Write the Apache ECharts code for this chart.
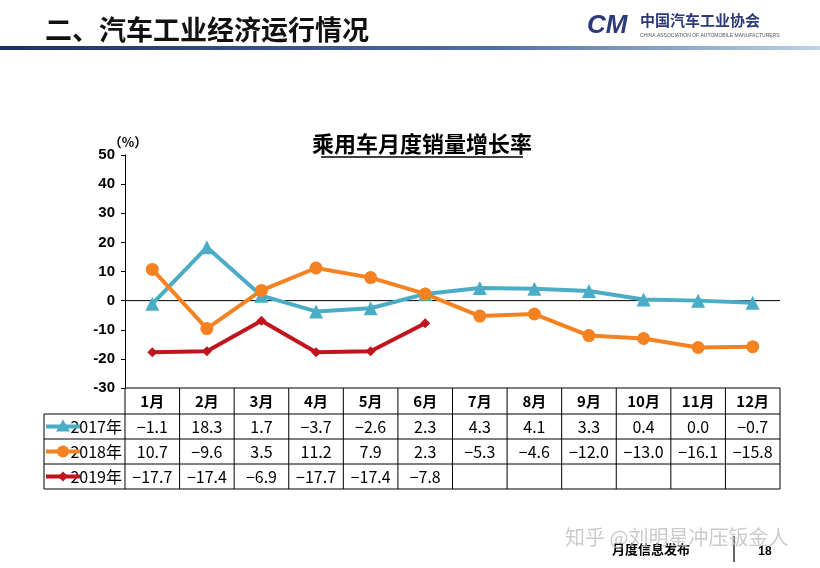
<!DOCTYPE html><html><head><meta charset="utf-8">
<script src="https://cdn.jsdelivr.net/npm/echarts@6/dist/echarts.min.js"></script>
<style>body{margin:0;background:#fff}#c{width:820px;height:568px}</style></head><body><div id="c"></div>
<script>
const months=['1月','2月','3月','4月','5月','6月','7月','8月','9月','10月','11月','12月'];
const names=['2017年','2018年','2019年'];
const s2017=[-1.1,18.3,1.7,-3.7,-2.6,2.3,4.3,4.1,3.3,0.4,0.0,-0.7];
const s2018=[10.7,-9.6,3.5,11.2,7.9,2.3,-5.3,-4.6,-12.0,-13.0,-16.1,-15.8];
const s2019=[-17.7,-17.4,-6.9,-17.7,-17.4,-7.8];
const labels2017=['-1.1','18.3','1.7','-3.7','-2.6','2.3','4.3','4.1','3.3','0.4','0.0','-0.7'];
const labels2018=['10.7','-9.6','3.5','11.2','7.9','2.3','-5.3','-4.6','-12.0','-13.0','-16.1','-15.8'];
const labels2019=['-17.7','-17.4','-6.9','-17.7','-17.4','-7.8'];
const colors=['#4bacc6','#f58220','#c0141e'];
const symbols=['triangle','circle','diamond'];
const chart=echarts.init(document.getElementById('c'));
const F='"Noto Sans CJK SC",sans-serif';
chart.setOption({
 animation:false,
 grid:{left:125,right:40,top:155,bottom:180},
 xAxis:{type:'category',data:months,boundaryGap:true,axisTick:{show:false},
  axisLine:{show:false},axisLabel:{show:false}},
 yAxis:{type:'value',min:-30,max:50,interval:10,axisLine:{show:true,lineStyle:{color:'#000'}},
  axisTick:{show:true,inside:false,length:4,lineStyle:{color:'#000'}},splitLine:{show:false},
  axisLabel:{color:'#000',fontSize:15,fontFamily:'Arial,sans-serif',fontWeight:'bold',margin:10}},
 series:[s2017,s2018,s2019].map((d,i)=>({type:'line',name:names[i],data:d,symbol:symbols[i],
  symbolSize:i==2?10:(i==0?14:13),lineStyle:{width:4,color:colors[i]},itemStyle:{color:colors[i]}}))
});
const g=[];
const p=(i,v)=>chart.convertToPixel({xAxisIndex:0,yAxisIndex:0},[i,v]);
const cw=p(1,0)[0]-p(0,0)[0];
const L=p(0,0)[0]-cw/2, R=L+12*cw, y0=p(0,0)[1], yb=p(0,-30)[1];
g.push({type:'line',shape:{x1:L,y1:y0,x2:R,y2:y0},style:{stroke:'#000',lineWidth:1}});
const rows=[yb,yb+26,yb+51,yb+76,yb+101];
const tl=44;
g.push({type:'line',shape:{x1:L,y1:rows[0],x2:R,y2:rows[0]},style:{stroke:'#000',lineWidth:1}});
for(let r=1;r<5;r++)g.push({type:'line',shape:{x1:tl,y1:rows[r],x2:R,y2:rows[r]},style:{stroke:'#000',lineWidth:1}});
g.push({type:'line',shape:{x1:tl,y1:rows[1],x2:tl,y2:rows[4]},style:{stroke:'#000',lineWidth:1}});
for(let i=0;i<=12;i++){const x=L+i*cw;g.push({type:'line',shape:{x1:x,y1:rows[0],x2:x,y2:rows[4]},style:{stroke:'#000',lineWidth:1}});}
const tx=(x,y,t,o)=>g.push({type:'text',x,y,style:Object.assign({text:t,fill:'#000',font:'15px '+F,align:'center',verticalAlign:'middle'},o||{})});
months.forEach((m,i)=>tx(p(i,0)[0],(rows[0]+rows[1])/2,m,{font:'bold 15px '+F}));
[labels2017,labels2018,labels2019].forEach((arr,r)=>{
 const yc=(rows[r+1]+rows[r+2])/2;
 arr.forEach((t,i)=>tx(p(i,0)[0],yc,t.replace('-','−'),{font:'16px '+F}));
 tx(125-3,yc,names[r],{align:'right',font:'16px '+F});
 g.push({type:'line',shape:{x1:tl+2,y1:yc,x2:tl+36,y2:yc},style:{stroke:colors[r],lineWidth:4}});
 const sx=tl+19;
 if(r==1)g.push({type:'circle',shape:{cx:sx,cy:yc,r:6},style:{fill:colors[r]}});
 if(r==0)g.push({type:'polygon',shape:{points:[[sx,yc-7],[sx-7,yc+5],[sx+7,yc+5]]},style:{fill:colors[r]}});
 if(r==2)g.push({type:'polygon',shape:{points:[[sx,yc-5],[sx+5,yc],[sx,yc+5],[sx-5,yc]]},style:{fill:colors[r]}});
});
tx(422,144,'乘用车月度销量增长率',{font:'bold 22px '+F});
g.push({type:'line',shape:{x1:321,y1:157,x2:523,y2:157},style:{stroke:'#000',lineWidth:1.5}});
tx(128,142,'（%）',{font:'bold 13px '+F});
tx(45,30,'二、汽车工业经济运行情况',{align:'left',font:'bold 27px '+F,fill:'#111'});
g.push({type:'rect',shape:{x:0,y:46,width:820,height:4},style:{fill:new echarts.graphic.LinearGradient(0,0,1,0,[{offset:0,color:'#1f2f5f'},{offset:0.6,color:'#4d6fa0'},{offset:1,color:'#bcd3ea'}])}});
tx(587,26,'CM',{align:'left',font:'italic bold 26px Arial',fill:'#2d3a78'});
tx(640,20,'中国汽车工业协会',{align:'left',font:'bold 15px '+F,fill:'#2d3a78'});
tx(640,36,'CHINA ASSOCIATION OF AUTOMOBILE MANUFACTURERS',{align:'left',font:'5px Arial',fill:'#555'});
tx(612,549,'月度信息发布',{align:'left',font:'bold 13px '+F});
g.push({type:'line',shape:{x1:734,y1:536,x2:734,y2:562},style:{stroke:'#333',lineWidth:1.5}});
tx(765,552,'18',{font:'bold 12px Arial'});
tx(565,537,'知乎 @刘明星冲压钣金人',{align:'left',font:'20px '+F,fill:'rgba(190,190,190,0.8)'});
chart.setOption({graphic:g});
</script></body></html>
